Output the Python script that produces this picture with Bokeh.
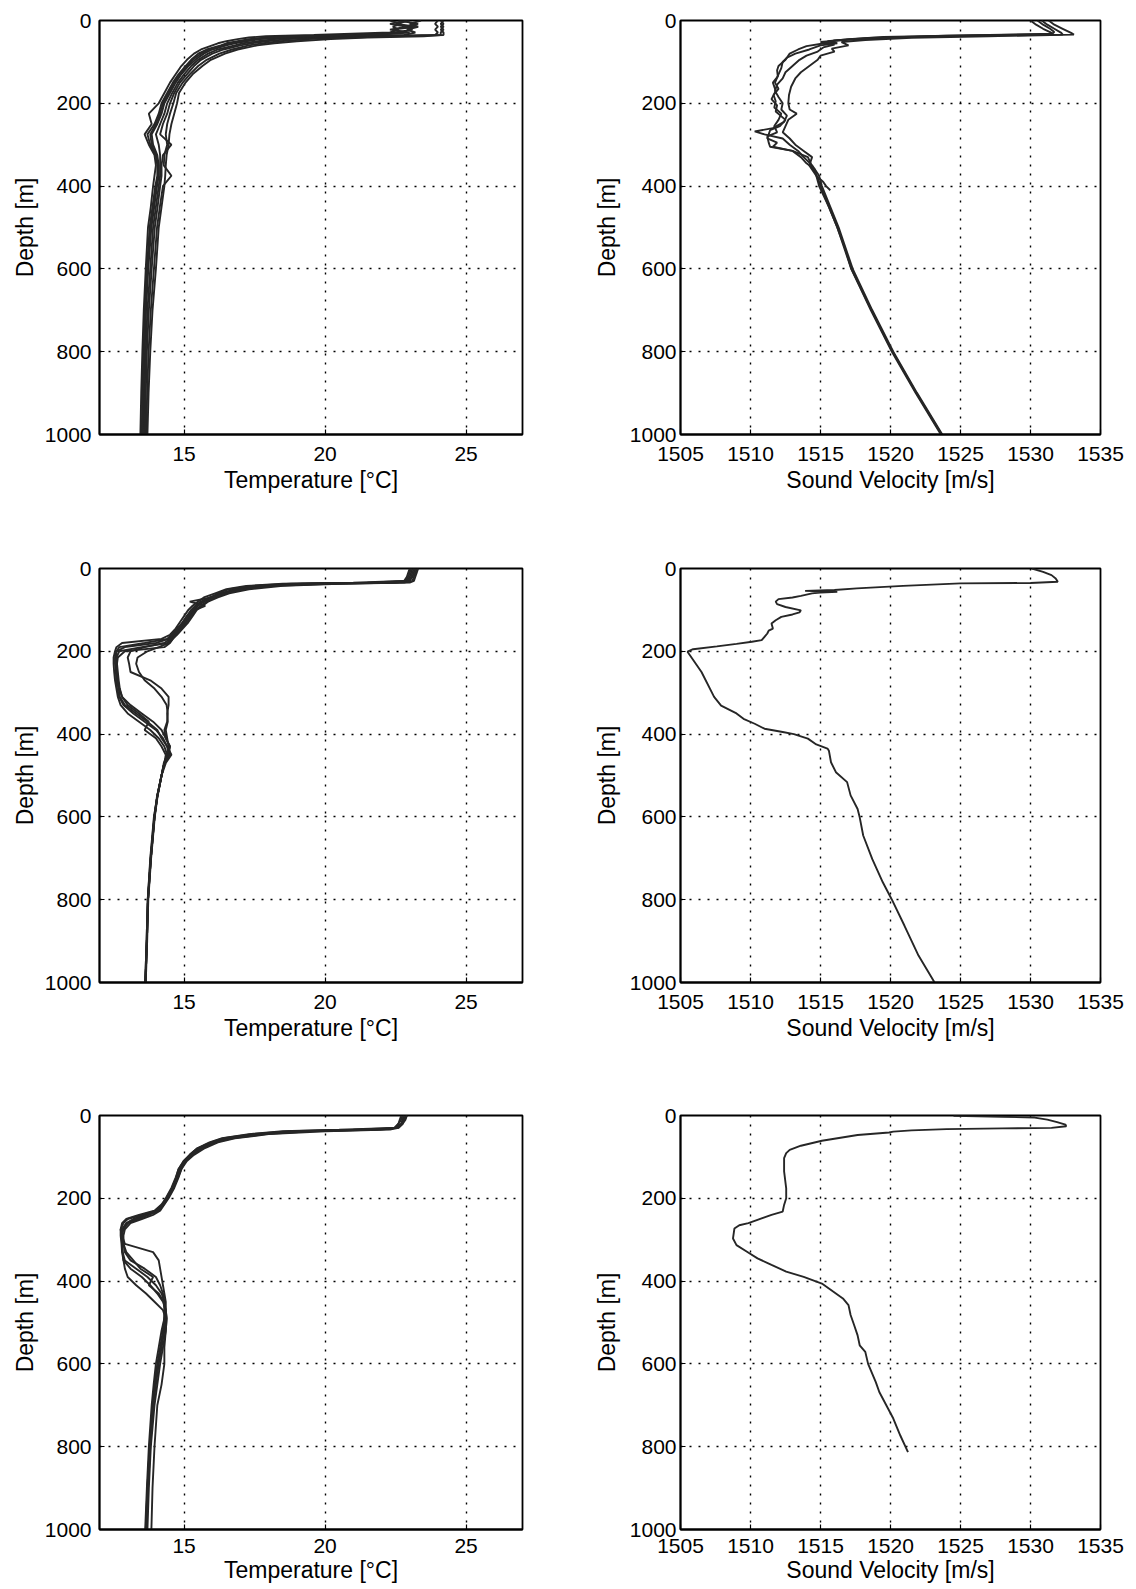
from bokeh.plotting import figure
from bokeh.layouts import column, row
from bokeh.models import Range1d, FixedTicker
from bokeh.embed import file_html
from bokeh.resources import INLINE

# ---------------- labels / ticks ----------------
temp_label = "Temperature [°C]"
vel_label = "Sound Velocity [m/s]"
depth_label = "Depth [m]"
temp_ticks = [15, 20, 25]
vel_ticks = [1505, 1510, 1515, 1520, 1525, 1530, 1535]
depth_ticks = [0, 200, 400, 600, 800, 1000]

# ---------------- site 1 : temperature (many casts) ----------------
tl_depth = [0, 8, 15, 22, 29, 35, 38, 41, 45, 50, 55, 60, 70, 80, 95, 110, 130, 150, 175, 200,
            225, 250, 275, 300, 325, 350, 375, 400, 450, 500, 600, 700, 800, 900, 1000]
tl_temp = [
    [22.3, 22.7, 22.4, 22.6, 22.3, 19.6, 17.9, 17.3, 16.9, 16.5, 16.2, 16.0, 15.6, 15.35, 15.1, 14.9, 14.7, 14.5, 14.3, 14.1,
     13.75, 13.85, 13.6, 13.75, 13.95, 14.0, 13.95, 13.9, 13.82, 13.72, 13.64, 13.57, 13.52, 13.48, 13.45],
    [23.0, 22.5, 23.2, 22.4, 22.8, 21.0, 18.8, 17.9, 17.3, 16.9, 16.5, 16.3, 15.8, 15.5, 15.25, 15.05, 14.8, 14.6, 14.4, 14.2,
     14.1, 13.95, 13.7, 13.8, 14.0, 14.05, 14.05, 13.98, 13.88, 13.78, 13.68, 13.61, 13.56, 13.52, 13.5],
    [22.6, 23.3, 22.8, 23.1, 22.5, 22.0, 19.8, 18.5, 17.7, 17.2, 16.8, 16.5, 16.0, 15.7, 15.4, 15.15, 14.9, 14.7, 14.5, 14.3,
     14.2, 14.05, 13.85, 13.9, 14.05, 14.1, 14.1, 14.04, 13.94, 13.84, 13.73, 13.65, 13.6, 13.56, 13.54],
    [23.4, 23.0, 23.3, 22.9, 23.2, 22.8, 20.8, 19.3, 18.2, 17.6, 17.1, 16.8, 16.2, 15.85, 15.5, 15.25, 15.0, 14.78, 14.58, 14.4,
     14.3, 14.15, 14.0, 14.1, 14.15, 14.15, 14.15, 14.1, 14.0, 13.9, 13.8, 13.7, 13.64, 13.6, 13.58],
    [24.0, 23.9, 24.0, 23.9, 24.0, 23.9, 21.5, 20.0, 18.7, 17.9, 17.4, 17.0, 16.4, 16.0, 15.6, 15.35, 15.1, 14.85, 14.65, 14.5,
     14.4, 14.25, 14.15, 14.55, 14.25, 14.2, 14.2, 14.15, 14.06, 13.96, 13.85, 13.75, 13.68, 13.64, 13.62],
    [24.2, 24.1, 24.2, 24.1, 24.2, 24.2, 22.5, 20.8, 19.4, 18.4, 17.8, 17.3, 16.7, 16.25, 15.8, 15.5, 15.2, 14.95, 14.72, 14.62,
     14.5, 14.4, 14.35, 14.4, 14.3, 14.28, 14.55, 14.25, 14.14, 14.04, 13.93, 13.82, 13.74, 13.69, 13.66],
    [24.1, 24.2, 24.1, 24.2, 24.1, 24.1, 23.5, 21.5, 20.2, 19.0, 18.2, 17.6, 16.9, 16.45, 15.95, 15.65, 15.3, 15.05, 14.82, 14.75,
     14.65, 14.55, 14.48, 14.45, 14.38, 14.35, 14.33, 14.3, 14.2, 14.1, 14.0, 13.88, 13.8, 13.74, 13.7],
    [22.9, 22.3, 22.9, 22.3, 23.0, 21.6, 19.2, 18.2, 17.5, 17.0, 16.65, 16.4, 15.9, 15.6, 15.3, 15.1, 14.85, 14.65, 14.45, 14.25,
     14.15, 14.0, 13.8, 13.85, 14.0, 14.08, 14.08, 14.0, 13.9, 13.8, 13.7, 13.63, 13.58, 13.54, 13.52],
]

# ---------------- site 1 : sound velocity ----------------
tr_depth = [
    [0, 10, 20, 28, 32, 36, 40, 45, 50, 55, 60, 70, 80, 90, 100, 115, 130, 150, 165, 180, 195, 210, 225, 240,
     255, 270, 280, 295, 305, 315, 330, 345, 360, 380, 400, 450, 500, 550, 600, 700, 800, 900, 1000],
    [0, 10, 20, 30, 34, 37, 41, 46, 52, 58, 65, 75, 85, 95, 110, 125, 140, 155, 170, 185, 200, 215, 230, 245,
     260, 268, 275, 285, 300, 315, 330, 350, 375, 400, 450, 500, 550, 600, 700, 800, 900, 1000],
    [0, 10, 20, 30, 34, 38, 42, 47, 52, 60, 68, 75, 85, 95, 110, 125, 140, 160, 180, 200, 215, 225, 240, 255,
     270, 285, 300, 315, 330, 350, 375, 400, 450, 500, 550, 600, 700, 800, 900, 1000],
    [0, 10, 20, 28, 33, 37, 42, 48, 55, 62, 70, 80, 95, 110, 120, 135, 150, 170, 190, 205, 220, 240, 255, 265,
     275, 285, 295, 305, 315, 330, 345, 360, 375, 390, 400, 410],
]
tr_vel = [
    [1530.0, 1530.4, 1530.9, 1531.4, 1531.6, 1525.0, 1519.5, 1517.0, 1515.5, 1516.2, 1515.0, 1514.2, 1513.2, 1512.6, 1512.3,
     1512.2, 1512.0, 1511.75, 1512.0, 1511.65, 1511.8, 1511.7, 1512.2, 1512.0, 1511.7, 1511.9, 1511.2, 1511.3, 1511.4, 1513.0,
     1514.1, 1514.3, 1514.5, 1514.8, 1515.0, 1515.6, 1516.2, 1516.7, 1517.2, 1518.6, 1520.1, 1521.8, 1523.6],
    [1530.8, 1531.2, 1531.7, 1532.2, 1532.3, 1526.0, 1520.0, 1517.2, 1515.0, 1516.0, 1515.2, 1514.8, 1514.0, 1513.5, 1513.0,
     1512.5, 1512.3, 1511.9, 1511.75, 1512.0, 1512.3, 1512.2, 1512.6, 1512.4, 1511.6, 1510.3, 1511.0, 1512.3, 1512.8, 1513.4,
     1513.8, 1514.4, 1514.9, 1515.1, 1515.7, 1516.3, 1516.8, 1517.3, 1518.7, 1520.2, 1521.9, 1523.7],
    [1531.3, 1531.7, 1532.3, 1532.9, 1533.1, 1527.0, 1521.5, 1518.2, 1516.5, 1517.0, 1515.8, 1516.0, 1515.0, 1514.8, 1514.2,
     1513.6, 1513.2, 1512.9, 1512.75, 1512.7, 1512.8, 1513.3, 1512.7, 1512.5, 1512.3, 1512.8, 1513.2, 1513.8, 1514.4, 1514.2,
     1514.7, 1514.9, 1515.6, 1516.2, 1516.75, 1517.2, 1518.65, 1520.15, 1521.85, 1523.65],
    [1530.5, 1530.9, 1531.4, 1531.7, 1531.5, 1524.0, 1518.5, 1516.0, 1515.3, 1514.0, 1513.4, 1512.8, 1512.5, 1512.0, 1511.9,
     1511.95, 1511.6, 1511.8, 1511.5, 1511.9, 1511.8, 1512.5, 1512.1, 1511.4, 1511.3, 1511.2, 1511.9, 1511.6, 1513.0, 1513.6,
     1514.0, 1514.6, 1514.7, 1515.2, 1515.4, 1515.7],
]

# ---------------- site 2 : temperature ----------------
ml_depth = [0, 10, 20, 30, 34, 37, 42, 50, 60, 70, 80, 90, 100, 115, 130, 145, 160, 170, 180, 190, 200,
            215, 230, 250, 270, 290, 310, 330, 350, 370, 390, 410, 430, 450, 470, 500, 550, 600, 700, 800, 900, 1000]
ml_temp = [
    [23.0, 22.95, 22.9, 22.8, 21.0, 18.5, 17.2, 16.5, 16.1, 15.7, 15.5, 15.3, 15.15, 15.0, 14.85, 14.7, 14.5, 14.2, 12.8, 12.6, 12.55,
     12.5, 12.5, 12.52, 12.55, 12.6, 12.65, 12.75, 13.0, 13.4, 13.8, 14.1, 14.3, 14.4, 14.3, 14.2, 14.05, 13.95, 13.82, 13.72, 13.68, 13.63],
    [23.1, 23.05, 23.0, 22.9, 22.0, 19.2, 17.6, 16.8, 16.3, 15.9, 15.6, 15.4, 15.25, 15.1, 14.95, 14.8, 14.6, 14.45, 14.0, 12.9, 12.6,
     12.55, 12.55, 12.58, 12.6, 12.62, 12.7, 12.85, 13.2, 13.6, 14.0, 14.25, 14.4, 14.45, 14.3, 14.2, 14.05, 13.93, 13.8, 13.71, 13.67, 13.62],
    [23.2, 23.15, 23.1, 23.0, 22.5, 19.8, 18.0, 17.0, 16.45, 16.0, 15.7, 15.5, 15.35, 15.2, 15.05, 14.85, 14.65, 14.55, 14.4, 13.5, 12.7,
     12.6, 12.6, 12.62, 12.65, 12.7, 12.8, 13.1, 13.5, 13.9, 14.2, 14.35, 14.5, 14.4, 14.28, 14.2, 14.06, 13.96, 13.83, 13.73, 13.69, 13.64],
    [23.3, 23.25, 23.2, 23.15, 23.0, 20.5, 18.5, 17.3, 16.6, 16.2, 15.85, 15.65, 15.45, 15.3, 15.15, 14.95, 14.75, 14.6, 14.5, 14.3, 12.9,
     12.65, 12.62, 12.6, 12.6, 12.68, 12.72, 12.9, 13.3, 13.7, 14.05, 14.2, 14.4, 14.55, 14.35, 14.2, 14.05, 13.95, 13.82, 13.72, 13.68, 13.63],
    [23.05, 23.0, 22.95, 22.85, 21.5, 18.8, 17.4, 16.6, 16.2, 15.95, 15.2, 15.75, 15.4, 15.1, 14.95, 14.75, 14.55, 14.4, 13.6, 12.7, 12.6,
     12.6, 12.62, 12.65, 12.68, 12.72, 12.8, 13.0, 13.4, 13.75, 13.6, 14.0, 14.2, 14.35, 14.3, 14.2, 14.04, 13.94, 13.81, 13.71, 13.67, 13.62],
    [23.15, 23.1, 23.05, 22.95, 22.3, 19.5, 17.8, 16.9, 16.4, 16.0, 15.65, 15.45, 15.3, 15.15, 15.0, 14.8, 14.62, 14.5, 14.3, 13.6, 13.1,
     13.0, 13.05, 13.1, 13.8, 14.2, 14.45, 14.45, 14.4, 14.42, 14.35, 14.4, 14.45, 14.5, 14.3, 14.2, 14.05, 13.95, 13.82, 13.72, 13.68, 13.63],
    [23.25, 23.2, 23.15, 23.1, 22.8, 20.2, 18.2, 17.1, 16.5, 16.1, 15.8, 15.6, 15.4, 15.25, 15.1, 14.9, 14.7, 14.6, 14.45, 14.1, 13.7,
     13.35, 13.3, 13.4, 13.6, 13.95, 14.2, 14.38, 14.42, 14.4, 14.3, 14.35, 14.5, 14.45, 14.3, 14.2, 14.05, 13.95, 13.82, 13.72, 13.68, 13.63],
]

# ---------------- site 2 : sound velocity ----------------
mr_depth = [0, 8, 16, 24, 32, 35, 36, 42, 48, 52, 54, 56, 58, 60, 66, 70, 74, 80, 86, 93, 101, 106, 111, 117, 125, 133,
            145, 150, 157, 165, 173, 177, 182, 188, 195, 201, 250, 310, 331, 350, 363, 375, 387, 395, 400, 411, 425, 435,
            440, 468, 492, 516, 548, 581, 601, 645, 702, 758, 800, 863, 935, 1000]
mr_vel = [1530.1, 1530.9, 1531.5, 1531.8, 1531.95, 1530.0, 1525.0, 1520.9, 1517.6, 1516.0, 1513.9, 1516.2, 1515.0, 1514.4,
          1513.6, 1513.0, 1512.0, 1511.8, 1511.9, 1512.5, 1513.6, 1513.5, 1513.0, 1512.2, 1511.8, 1511.5, 1511.6, 1511.3,
          1511.2, 1511.0, 1510.8, 1510.1, 1509.0, 1507.6, 1505.9, 1505.5, 1506.5, 1507.4, 1507.9, 1509.0, 1509.5, 1510.3,
          1511.0, 1512.3, 1513.1, 1514.1, 1514.7, 1515.5, 1515.6, 1515.75, 1516.1, 1516.9, 1517.15, 1517.65, 1517.8,
          1518.05, 1518.7, 1519.45, 1520.1, 1521.0, 1522.0, 1523.15]

# ---------------- site 3 : temperature ----------------
bl_depth = [0, 10, 20, 30, 34, 38, 45, 55, 65, 80, 95, 110, 130, 150, 175, 200, 215, 230, 240, 250, 260,
            275, 290, 310, 330, 350, 370, 390, 410, 430, 450, 470, 490, 520, 560, 600, 650, 700, 800, 900, 1000]
bl_temp = [
    [22.9, 22.85, 22.75, 22.6, 21.5, 19.0, 17.6, 16.5, 16.0, 15.5, 15.25, 15.0, 14.85, 14.75, 14.6, 14.4, 14.25, 14.05, 13.6, 13.2, 12.95,
     12.8, 12.8, 12.9, 13.9, 14.1, 14.15, 14.2, 14.25, 14.3, 14.35, 14.35, 14.38, 14.35, 14.3, 14.3, 14.2, 14.05, 13.95, 13.88, 13.84],
    [22.8, 22.75, 22.7, 22.55, 22.0, 19.5, 17.9, 16.7, 16.1, 15.6, 15.3, 15.05, 14.9, 14.8, 14.65, 14.45, 14.3, 14.15, 13.9, 13.5, 13.1,
     12.9, 12.85, 12.85, 12.9, 13.1, 13.6, 14.0, 14.15, 14.25, 14.3, 14.35, 14.3, 14.2, 14.1, 14.0, 13.92, 13.85, 13.75, 13.68, 13.62],
    [22.85, 22.8, 22.7, 22.5, 21.0, 18.7, 17.4, 16.4, 15.95, 15.45, 15.2, 15.0, 14.8, 14.72, 14.57, 14.37, 14.22, 14.0, 13.5, 13.0, 12.85,
     12.75, 12.78, 12.8, 12.82, 12.9, 13.3, 13.7, 14.0, 14.2, 14.3, 14.32, 14.3, 14.25, 14.15, 14.05, 13.95, 13.88, 13.78, 13.7, 13.65],
    [22.75, 22.7, 22.6, 22.45, 20.5, 18.5, 17.3, 16.35, 15.9, 15.45, 15.2, 14.98, 14.8, 14.7, 14.55, 14.35, 14.2, 13.95, 13.4, 12.95, 12.8,
     12.75, 12.75, 12.78, 12.8, 12.85, 13.1, 13.5, 13.8, 14.05, 14.25, 14.35, 14.38, 14.35, 14.25, 14.15, 14.05, 13.95, 13.82, 13.75, 13.7],
    [22.9, 22.8, 22.75, 22.6, 22.3, 20.0, 18.0, 16.8, 16.2, 15.7, 15.35, 15.1, 14.9, 14.78, 14.62, 14.42, 14.28, 14.1, 13.75, 13.3, 13.0,
     12.85, 12.8, 12.8, 12.82, 12.85, 12.9, 13.0, 13.3, 13.65, 13.95, 14.25, 14.35, 14.3, 14.2, 14.1, 14.0, 13.9, 13.78, 13.7, 13.64],
    [22.7, 22.65, 22.6, 22.5, 21.8, 19.2, 17.7, 16.6, 16.05, 15.55, 15.28, 15.02, 14.86, 14.76, 14.6, 14.4, 14.24, 14.08, 13.7, 13.4, 13.0,
     12.8, 12.8, 12.85, 12.95, 13.2, 13.45, 13.9, 13.75, 14.1, 14.28, 14.3, 14.3, 14.28, 14.18, 14.08, 13.98, 13.9, 13.8, 13.72, 13.66],
]

# ---------------- site 3 : sound velocity ----------------
br_depth = [1, 3, 5, 10, 16, 22, 26, 30, 31, 33, 36, 39, 41, 47, 61, 73, 83, 91, 103, 135, 176, 200, 216, 232, 240, 252,
            260, 265, 273, 297, 313, 329, 345, 361, 377, 390, 406, 430, 442, 458, 482, 506, 531, 555, 571, 600, 644,
            668, 700, 732, 773, 813]
br_vel = [1524.5, 1528.0, 1530.3, 1531.2, 1531.9, 1532.5, 1532.55, 1531.5, 1528.0, 1524.0, 1521.5, 1520.2, 1519.9,
          1517.65, 1515.1, 1513.6, 1512.8, 1512.55, 1512.4, 1512.4, 1512.55, 1512.55, 1512.4, 1512.3, 1511.5, 1510.5,
          1509.85, 1509.2, 1508.85, 1508.75, 1509.0, 1509.75, 1510.5, 1511.5, 1512.55, 1513.8, 1515.1, 1516.1, 1516.6,
          1517.0, 1517.15, 1517.4, 1517.65, 1517.8, 1518.2, 1518.4, 1518.95, 1519.2, 1519.7, 1520.2, 1520.7, 1521.25]

# ---------------- styling helpers ----------------
FONT = "Liberation Sans"
LINE_COLOR = "#262626"


def make_panel(width, height, bl, br, bt, bb, xr, xticks, xlabel, ystand, ylab_stand, xstand, xlab_stand):
    p = figure(width=width, height=height, output_backend="svg", toolbar_location=None,
               x_range=Range1d(*xr), y_range=Range1d(1000, 0),
               min_border_left=bl, min_border_right=br, min_border_top=bt, min_border_bottom=bb)
    p.background_fill_color = "white"
    p.border_fill_color = "white"
    p.outline_line_color = "black"
    p.outline_line_width = 1.8
    p.xaxis.ticker = FixedTicker(ticks=xticks)
    p.yaxis.ticker = FixedTicker(ticks=depth_ticks)
    p.xaxis.axis_label = xlabel
    p.yaxis.axis_label = depth_label
    for ax in (p.xaxis, p.yaxis):
        ax.axis_line_color = "black"
        ax.axis_line_width = 1.8
        ax.major_tick_in = 5
        ax.major_tick_out = 0
        ax.major_tick_line_color = "black"
        ax.major_tick_line_width = 1.2
        ax.minor_tick_line_color = None
        ax.major_label_text_font = FONT
        ax.major_label_text_font_size = "21px"
        ax.major_label_text_color = "black"
        ax.axis_label_text_font = FONT
        ax.axis_label_text_font_size = "23px"
        ax.axis_label_text_font_style = "normal"
        ax.axis_label_text_color = "black"
    p.yaxis.major_label_standoff = ystand
    p.yaxis.axis_label_standoff = ylab_stand
    p.xaxis.major_label_standoff = xstand
    p.xaxis.axis_label_standoff = xlab_stand
    for g in (p.xgrid, p.ygrid):
        g.grid_line_color = "black"
        g.grid_line_dash = "2 7"
        g.grid_line_width = 1.4
    return p


LW, RW = 588, 542
L_BL, L_BR = 99, 66
R_BL, R_BR = 92, 30
ROWS = [(548, 20, 114, 12, 3), (547, 20, 113, 12, 3), (494, 20, 60, 9, 1)]

temp_sets = [(tl_depth, tl_temp), (ml_depth, ml_temp), (bl_depth, bl_temp)]
vel_sets = [
    (tr_depth, tr_vel),
    ([mr_depth], [mr_vel]),
    ([br_depth], [br_vel]),
]

rows_out = []
for i, (h, bt, bb, xs, xls) in enumerate(ROWS):
    pt = make_panel(LW, h, L_BL, L_BR, bt, bb, (12, 27), temp_ticks, temp_label, 8, 4, xs, xls)
    dep, temps = temp_sets[i]
    for tprof in temps:
        pt.line(tprof, dep, line_color=LINE_COLOR, line_width=1.9)
    pv = make_panel(RW, h, R_BL, R_BR, bt, bb, (1505, 1535), vel_ticks, vel_label, 4, 7, xs, xls)
    deps, vels = vel_sets[i]
    for dprof, vprof in zip(deps, vels):
        pv.line(vprof, dprof, line_color=LINE_COLOR, line_width=1.9)
    rows_out.append(row(pt, pv))

layout = column(*rows_out)
open("out.html", "w").write(file_html(layout, INLINE, "CTD profiles"))
